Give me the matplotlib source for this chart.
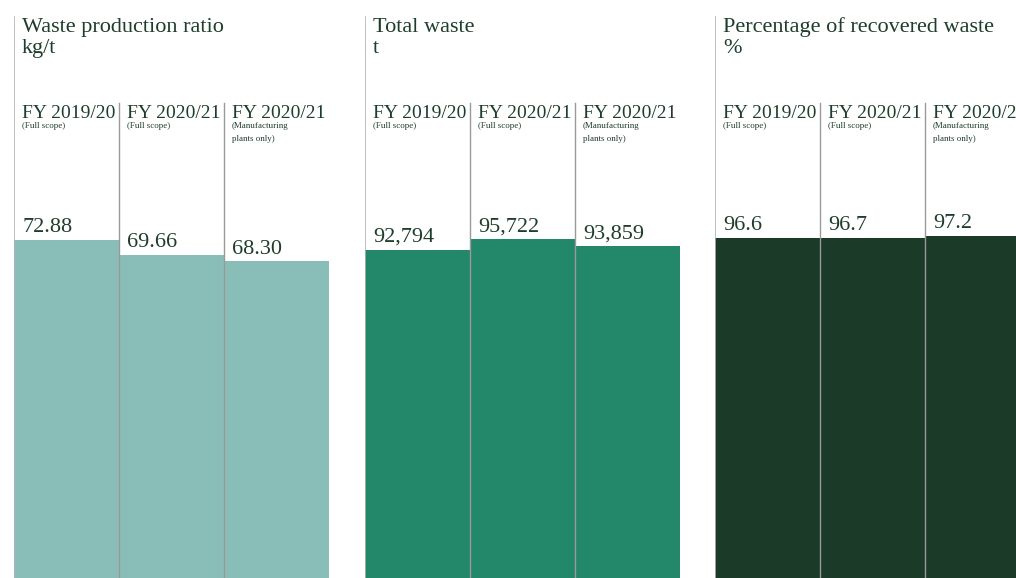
import matplotlib
matplotlib.use("Agg")
import matplotlib.pyplot as plt

W, H = 1016, 578

titles = ["Waste production ratio", "Total waste", "Percentage of recovered waste"]
units = ["kg/t", "t", "%"]
periods = ["FY 2019/20", "FY 2020/21", "FY 2020/21"]
scopes = ["(Full scope)", "(Full scope)", "(Manufacturing\nplants only)"]

ratio_vals = [72.88, 69.66, 68.30]
total_vals = [92794, 95722, 93859]
recovered_vals = [96.6, 96.7, 97.2]
ratio_labels = ["72.88", "69.66", "68.30"]
total_labels = ["92,794", "95,722", "93,859"]
recovered_labels = ["96.6", "96.7", "97.2"]

panels = [
    (ratio_vals, ratio_labels, "#89beb8", 124.6, 14),
    (total_vals, total_labels, "#23876a", 163300, 365),
    (recovered_vals, recovered_labels, "#1b3a28", 164.2, 715),
]

txt = "#1f3d2b"
plt.rcParams["font.family"] = ["Liberation Serif", "DejaVu Serif"]

fig = plt.figure(figsize=(W / 100, H / 100), dpi=100)
bar_w = 105

for k, (vals, labels, color, ymax, left) in enumerate(panels):
    ax = fig.add_axes([left / W, 0, 3 * bar_w / W, 1])
    ax.set_xlim(0, 3)
    ax.set_ylim(0, ymax)
    ax.axis("off")
    ax.bar(range(3), vals, width=1, align="edge", color=color, linewidth=0, zorder=1)

    # panel rule and column dividers
    ax.axvline(0, ymin=0, ymax=(H - 17) / H, color="#b3b3b3", lw=1.2, zorder=3)
    for x in (1, 2):
        ax.axvline(x, ymin=0, ymax=(H - 103) / H, color="#9a9a9a", lw=1.0, zorder=3)

    # heading
    ax.text(8 / (3 * bar_w), 1 - 32 / H, titles[k], transform=ax.transAxes,
            fontsize=16, color=txt, va="baseline", ha="left")
    ax.text(8 / (3 * bar_w), 1 - 53 / H, units[k], transform=ax.transAxes,
            fontsize=16, color=txt, va="baseline", ha="left")

    for i in range(3):
        xf = (i * bar_w + 8) / (3 * bar_w)
        ax.text(xf, 1 - 118 / H, periods[i], transform=ax.transAxes,
                fontsize=14, color=txt, va="baseline", ha="left")
        lines = scopes[i].split("\n")
        for j, line in enumerate(lines):
            ax.text(xf, 1 - (128 + 13 * j) / H, line, transform=ax.transAxes,
                    fontsize=6.5, color=txt, va="baseline", ha="left")
        ax.annotate(labels[i], (i, vals[i]), xytext=(5.8, 5.5), textcoords="offset points",
                    fontsize=16, color=txt, va="baseline", ha="left")

fig.savefig("out.png", dpi=100)
